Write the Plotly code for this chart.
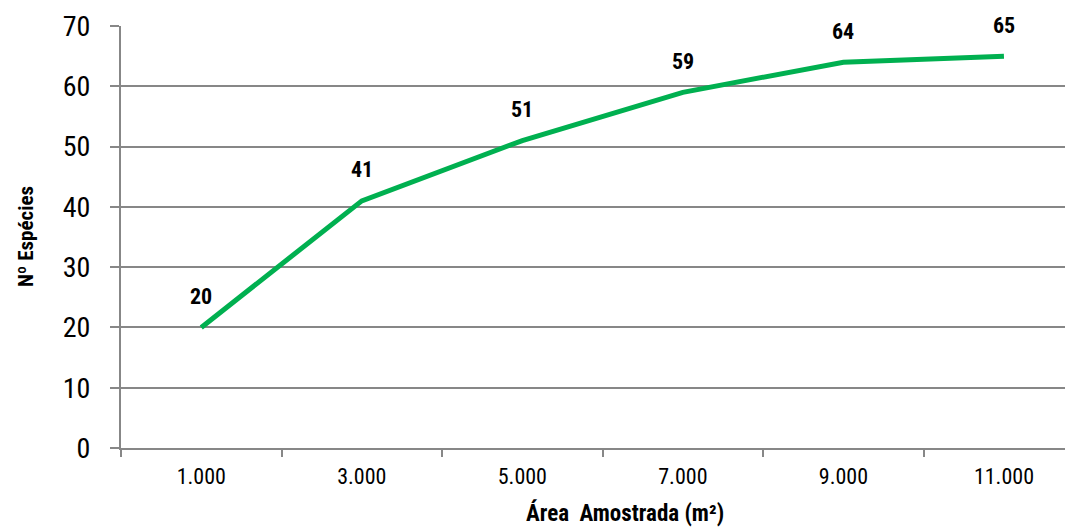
import plotly.graph_objects as go

categories = ["1.000", "3.000", "5.000", "7.000", "9.000", "11.000"]
species = [20, 41, 51, 59, 64, 65]
y_ticks = [0, 10, 20, 30, 40, 50, 60, 70]

NARROW = "Liberation Sans Narrow, Arial Narrow, Roboto Condensed, Liberation Sans, sans-serif"
GRID = "#878787"
GREEN = "#00B050"

fig = go.Figure()
fig.add_trace(go.Scatter(
    x=categories, y=species, mode="lines",
    line=dict(color=GREEN, width=5),
    hoverinfo="x+y", showlegend=False,
))

for i, v in enumerate(species):
    fig.add_annotation(x=i, y=v, text=f"<b>{v}</b>", showarrow=False,
                       xanchor="center", yanchor="middle",
                       yshift=31, font=dict(family=NARROW, size=22, color="#000000"))

fig.add_annotation(xref="paper", yref="paper", x=0, xshift=504, y=0, yshift=-65,
                   xanchor="center", yanchor="middle",
                   text="<b>Área  Amostrada (m²)</b>", showarrow=False,
                   font=dict(family=NARROW, size=23, color="#000000"))
fig.add_annotation(xref="paper", yref="paper", x=0, xshift=-95, y=0.5, yshift=0,
                   xanchor="center", yanchor="middle",
                   text="<b>Nº Espécies</b>", showarrow=False, textangle=-90,
                   font=dict(family=NARROW, size=21, color="#000000"))

fig.update_layout(
    width=1073, height=529,
    margin=dict(l=113, r=0, t=18, b=89),
    paper_bgcolor="white", plot_bgcolor="white",
    xaxis=dict(
        type="category", range=[-0.5, 5.48], automargin=False,
        showgrid=False, showline=True, linecolor=GRID, linewidth=2,
        ticks="outside", tickson="boundaries", ticklen=7, tickcolor=GRID, tickwidth=2,
        tickfont=dict(family=NARROW, size=22, color="#000000"),
        ticklabelstandoff=8,
    ),
    yaxis=dict(
        range=[0, 70], tickvals=y_ticks, automargin=False,
        showgrid=True, gridcolor=GRID, gridwidth=1.5,
        showline=True, linecolor=GRID, linewidth=2,
        ticks="outside", ticklen=9, tickcolor=GRID, tickwidth=2,
        tickfont=dict(family=NARROW, size=28, color="#000000"),
        ticklabelstandoff=14, zeroline=False,
    ),
)

fig.write_html("out.html")
